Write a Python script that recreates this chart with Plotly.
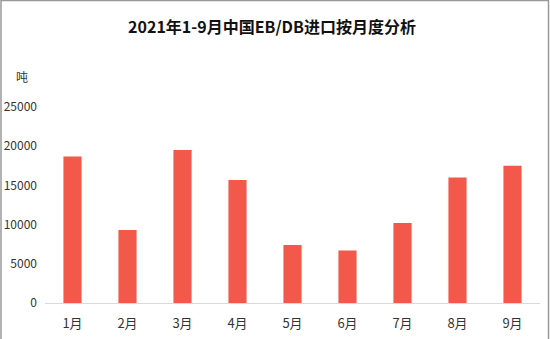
import plotly.graph_objects as go

months = ["1月", "2月", "3月", "4月", "5月", "6月", "7月", "8月", "9月"]
imports = [18700, 9300, 19500, 15700, 7400, 6700, 10200, 16000, 17500]
y_ticks = [0, 5000, 10000, 15000, 20000, 25000]
y_tick_labels = ["0", "5000", "10000", "15000", "20000", "25000"]

fig = go.Figure()
fig.add_trace(go.Bar(
    x=months, y=imports,
    marker=dict(color="#F2594B", line=dict(width=0)),
    width=0.33,
))

L, R, T, B = 45, 10, 107, 36
W, H = 550, 339
pw, ph = W - L - R, H - T - B

fig.update_layout(
    width=W, height=H,
    margin=dict(l=L, r=R, t=T, b=B, autoexpand=False),
    paper_bgcolor="white", plot_bgcolor="white",
    showlegend=False,
    font=dict(family="Noto Sans CJK SC, sans-serif", size=12, color="#444"),
    title=dict(text="<b>2021年1-9月中国EB/DB进口按月度分析</b>",
               x=272 / W, xanchor="center", y=1 - 27 / H, yanchor="middle",
               font=dict(size=16, color="#111", family="Noto Sans CJK SC")),
    xaxis=dict(showgrid=False, showline=True, linecolor="#d9d9d9", linewidth=1,
               ticks="", tickfont=dict(size=13, color="#333"),
               ticklabelstandoff=8, automargin=False),
    yaxis=dict(range=[0, 25000], tickvals=y_ticks, ticktext=y_tick_labels,
               showgrid=False, zeroline=False, automargin=False,
               showline=False, ticks="", tickfont=dict(size=12, color="#333"),
               ticklabelstandoff=7),
    annotations=[dict(text="吨", xref="paper", yref="paper",
                      x=(22 - L) / pw, y=(H - B - 77) / ph,
                      xanchor="center", yanchor="middle", showarrow=False,
                      font=dict(size=12, color="#333"))],
    shapes=[dict(type="rect", xref="paper", yref="paper",
                 x0=(1 - L) / pw, x1=(548.5 - L) / pw,
                 y0=(H - B - 345) / ph, y1=(H - B - 0.5) / ph,
                 line=dict(color="#999", width=1.5), fillcolor="rgba(0,0,0,0)")],
)

fig.write_html("out.html")
